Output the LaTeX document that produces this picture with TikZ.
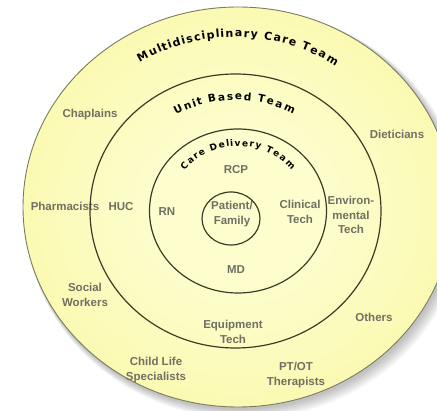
\documentclass[tikz,border=0pt]{standalone}
\usepackage{fontspec}
\setmainfont{Liberation Sans}
\newfontfamily\arcfamily{DejaVu Sans}
\usetikzlibrary{decorations.text}
\definecolor{lab}{RGB}{112,112,100}
\definecolor{ringc}{RGB}{60,60,38}
\definecolor{outerc}{RGB}{125,123,95}
\definecolor{yin}{RGB}{253,253,205}
\definecolor{yout}{RGB}{246,244,135}
\pgfdeclareradialshading{yelshade}{\pgfpoint{0bp}{0bp}}{color(0bp)=(yin); color(10bp)=(yin); color(50bp)=(yout)}
\begin{document}
\begin{tikzpicture}[x=1pt,y=-1pt,
  lbl/.style={font=\bfseries\fontsize{11.5}{14.5}\selectfont, text=lab, align=center, inner sep=0pt},
  ringline/.style={draw=ringc, line width=1.2pt},
  arctext/.style={decorate, font=\arcfamily\bfseries\fontsize{#1}{#1}\selectfont,
    decoration={text effects along path, text effects/.cd, text along path, fit text to path,
      characters={text=black}}}
]
\useasboundingbox (0,0) rectangle (437,411);
\clip (0,0) rectangle (437,411);
\fill[white] (0,0) rectangle (437,411);
% shadow
\foreach \k in {1,...,8}
  \fill[black, opacity=0.03] (238+1+\k*0.7, 207+1.5+\k*0.7) ellipse [x radius=215+\k*0.6, y radius=200+\k*0.6];
% outer disc
\shade[shading=yelshade] (238,207) ellipse [x radius=215, y radius=200];
\draw[draw=outerc, line width=0.9pt] (238,207) ellipse [x radius=215, y radius=200];

% labels
\node[lbl] (chap) at (90,115) {Chaplains};
\node[lbl] (diet) at (397,134) {Dieticians};
\node[lbl] (pharm) at (65,206) {Pharmacists};
\node[lbl] (social) at (85,295) {Social\\Workers};
\node[lbl] (child) at (156,370) {Child Life\\Specialists};
\node[lbl] (ptot) at (296,375) {PT/OT\\Therapists};
\node[lbl] (others) at (374,317) {Others};
\node[lbl] (env) at (351,215) {Environ-\\mental\\Tech};
\node[lbl] (huc) at (121,207) {HUC};
\node[lbl] (equip) at (233,332) {Equipment\\Tech};
\node[lbl] (rn) at (167,212) {RN};
\node[lbl] (rcp) at (236,170) {RCP};
\node[lbl] (md) at (236,270) {MD};
\node[lbl] (clin) at (300,212) {Clinical\\Tech};
\node[lbl] (pat) at (232,214) {Patient/\\Family};

% rings
\draw[ringline] (235.5,211) ellipse [x radius=145.5, y radius=137];
\draw[ringline] (238,211) ellipse [x radius=88.5, y radius=82];
\draw[ringline] (231,218.5) ellipse [x radius=29, y radius=26.5];

% arc titles
\path[arctext=11, decoration={text={Multidisciplinary Care Team}}]
  (235,207) ++(-122:180 and 170) arc [start angle=-122, end angle=-56, x radius=180, y radius=170];
\path[arctext=10.5, decoration={text={Unit Based Team}}]
  (235.5,211) ++(-120:119 and 111) arc [start angle=-120, end angle=-61, x radius=119, y radius=111];
\path[arctext=9, decoration={text={Care Delivery Team}}]
  (238,211) ++(-141:69 and 65) arc [start angle=-141, end angle=-39, x radius=69, y radius=65];
\end{tikzpicture}
\end{document}
